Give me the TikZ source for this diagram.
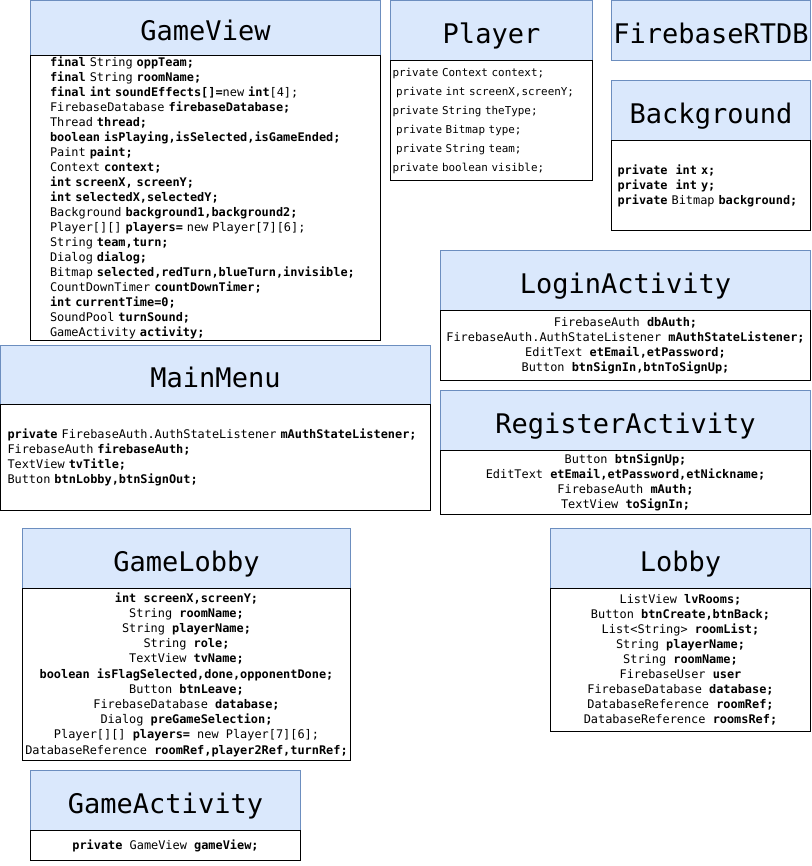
\documentclass[tikz,border=0pt]{standalone}
\usepackage{fontspec}
\newfontfamily\codefont{DejaVu Sans Mono}
\definecolor{hdrfill}{HTML}{DAE8FC}
\definecolor{hdrdraw}{HTML}{6C8EBF}
\newcommand\kw[1]{\textbf{#1}}
\begin{document}
\begin{tikzpicture}[x=1pt,y=-1pt,
  hdr/.style={draw=hdrdraw, fill=hdrfill, line width=1pt, anchor=north west, inner sep=0pt,
    text height=25.5pt, text depth=0pt,
    font=\codefont\fontsize{27}{27}\selectfont},
  bodyL/.style={draw=black, fill=white, line width=1pt, anchor=north west, align=left,
    inner ysep=0pt, font=\codefont\fontsize{11.9}{15}\selectfont},
  bodyC/.style={draw=black, fill=white, line width=1pt, anchor=north west, align=center,
    inner sep=0pt, font=\codefont\fontsize{11.9}{15}\selectfont}
]
\useasboundingbox (0,0) rectangle (811,866);

% GameView
\node[hdr, minimum width=350pt, minimum height=55pt] (gvH) at (30,0) {GameView};
\node[bodyL, minimum height=285pt, text width=311pt, inner xsep=19.5pt] (gvB) at (30,55) {%
\kw{final} String \kw{oppTeam;}\\
\kw{final} String \kw{roomName;}\\
\kw{final int soundEffects[]=}new \kw{int}[4];\\
FirebaseDatabase \kw{firebaseDatabase;}\\
Thread \kw{thread;}\\
\kw{boolean isPlaying,isSelected,isGameEnded;}\\
Paint \kw{paint;}\\
Context \kw{context;}\\
\kw{int screenX, screenY;}\\
\kw{int selectedX,selectedY;}\\
Background \kw{background1,background2;}\\
Player[][] \kw{players=} new Player[7][6];\\
String \kw{team,turn;}\\
Dialog \kw{dialog;}\\
Bitmap \kw{selected,redTurn,blueTurn,invisible;}\\
CountDownTimer \kw{countDownTimer;}\\
\kw{int currentTime=0;}\\
SoundPool \kw{turnSound;}\\
GameActivity \kw{activity;}};

% Player
\node[hdr, minimum width=202pt, minimum height=60pt] (plH) at (390,0) {Player};
\node[bodyL, minimum height=120pt, text width=198pt, inner xsep=2pt,
  font=\codefont\fontsize{10.9}{19}\selectfont] (plB) at (390,60) {%
private Context context;\\
\ private int screenX,screenY;\\
private String theType;\\
\ private Bitmap type;\\
\ private String team;\\
private boolean visible;};

% FirebaseRTDB
\node[hdr, minimum width=199pt, minimum height=60pt] (fbH) at (611,0) {FirebaseRTDB};

% Background
\node[hdr, minimum width=199pt, minimum height=60pt] (bgH) at (611,80) {Background};
\node[bodyL, minimum height=90pt, text width=187pt, inner xsep=6pt] (bgB) at (611,140) {%
\kw{private}\ \ \kw{int x;}\\
\kw{private}\ \ \kw{int y;}\\
\kw{private} Bitmap \kw{background;}};

% LoginActivity
\node[hdr, minimum width=370pt, minimum height=60pt] (liH) at (440,250) {LoginActivity};
\node[bodyC, minimum width=370pt, minimum height=70pt] (liB) at (440,310) {%
FirebaseAuth \kw{dbAuth;}\\
FirebaseAuth.AuthStateListener \kw{mAuthStateListener;}\\
EditText \kw{etEmail,etPassword;}\\
Button \kw{btnSignIn,btnToSignUp;}};

% RegisterActivity
\node[hdr, minimum width=370pt, minimum height=60pt] (reH) at (440,390) {RegisterActivity};
\node[bodyC, minimum width=370pt, minimum height=64pt] (reB) at (440,450) {%
Button \kw{btnSignUp;}\\
EditText \kw{etEmail,etPassword,etNickname;}\\
FirebaseAuth \kw{mAuth;}\\
TextView \kw{toSignIn;}};

% MainMenu
\node[hdr, minimum width=430pt, minimum height=59pt] (mmH) at (0,345) {MainMenu};
\node[bodyL, minimum height=106pt, text width=416pt, inner xsep=7pt] (mmB) at (0,404) {%
\kw{private} FirebaseAuth.AuthStateListener \kw{mAuthStateListener;}\\
FirebaseAuth \kw{firebaseAuth;}\\
TextView \kw{tvTitle;}\\
Button \kw{btnLobby,btnSignOut;}};

% GameLobby
\node[hdr, minimum width=328pt, minimum height=60pt] (glH) at (22,528) {GameLobby};
\node[bodyC, minimum width=328pt, minimum height=172pt,
  font=\codefont\fontsize{11.9}{15.2}\selectfont] (glB) at (22,588) {%
\kw{int screenX,screenY;}\\
String \kw{roomName;}\\
String \kw{playerName;}\\
String \kw{role;}\\
TextView \kw{tvName;}\\
\kw{boolean isFlagSelected,done,opponentDone;}\\
Button \kw{btnLeave;}\\
FirebaseDatabase \kw{database;}\\
Dialog \kw{preGameSelection;}\\
Player[][] \kw{players=} new Player[7][6];\\
DatabaseReference \kw{roomRef,player2Ref,turnRef;}};

% Lobby
\node[hdr, minimum width=260pt, minimum height=60pt] (lbH) at (550,528) {Lobby};
\node[bodyC, minimum width=260pt, minimum height=143pt] (lbB) at (550,588) {%
ListView \kw{lvRooms;}\\
Button \kw{btnCreate,btnBack;}\\
List<String> \kw{roomList;}\\
String \kw{playerName;}\\
String \kw{roomName;}\\
FirebaseUser \kw{user}\\
FirebaseDatabase \kw{database;}\\
DatabaseReference \kw{roomRef;}\\
DatabaseReference \kw{roomsRef;}};

% GameActivity
\node[hdr, minimum width=270pt, minimum height=60pt] (gaH) at (30,770) {GameActivity};
\node[bodyC, minimum width=270pt, minimum height=30pt] (gaB) at (30,830) {%
\kw{private} GameView \kw{gameView;}};
\end{tikzpicture}
\end{document}
